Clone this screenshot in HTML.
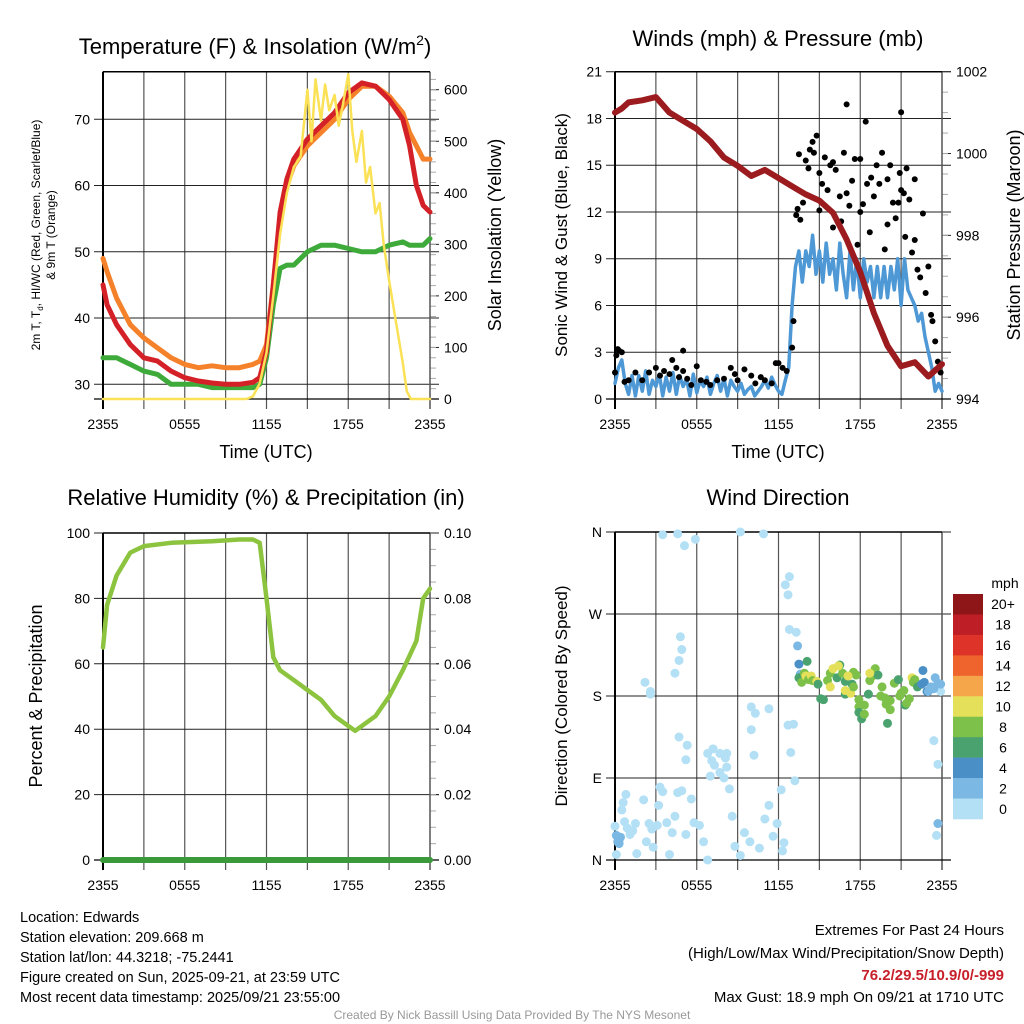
<!DOCTYPE html>
<html><head><meta charset="utf-8"><style>
html,body{margin:0;padding:0;background:#fff;}
svg{display:block;font-family:"Liberation Sans",sans-serif;}
</style></head><body>
<svg id="chart" width="1024" height="1024" viewBox="0 0 1024 1024">
<g id="layer"></g>
<text x="255" y="54" font-size="22" text-anchor="middle">Temperature (F) &amp; Insolation (W/m<tspan dy="-9" font-size="14">2</tspan><tspan dy="9">)</tspan></text>
<text x="778" y="46" font-size="22" text-anchor="middle">Winds (mph) &amp; Pressure (mb)</text>
<text x="266" y="505" font-size="22" text-anchor="middle">Relative Humidity (%) &amp; Precipitation (in)</text>
<text x="778" y="505" font-size="22" text-anchor="middle">Wind Direction</text>
<text x="266" y="458" font-size="18" text-anchor="middle">Time (UTC)</text>
<text x="778" y="458" font-size="18" text-anchor="middle">Time (UTC)</text>
<text transform="translate(40,235) rotate(-90)" font-size="12" text-anchor="middle">2m T, T<tspan font-size="8" dy="3">d</tspan><tspan dy="-3">, HI/WC (Red, Green, Scarlet/Blue)</tspan></text>
<text transform="translate(55,235) rotate(-90)" font-size="12" text-anchor="middle">&amp; 9m T (Orange)</text>
<text transform="translate(501,235) rotate(-90)" font-size="18" text-anchor="middle">Solar Insolation (Yellow)</text>
<text transform="translate(567,235) rotate(-90)" font-size="17" text-anchor="middle">Sonic Wind &amp; Gust (Blue, Black)</text>
<text transform="translate(1020,235) rotate(-90)" font-size="18" text-anchor="middle">Station Pressure (Maroon)</text>
<text transform="translate(42,696) rotate(-90)" font-size="18" text-anchor="middle">Percent &amp; Precipitation</text>
<text transform="translate(567,696) rotate(-90)" font-size="17" text-anchor="middle">Direction (Colored By Speed)</text>
<g font-size="14.5">
<text x="20" y="922">Location: Edwards</text>
<text x="20" y="942">Station elevation: 209.668 m</text>
<text x="20" y="962">Station lat/lon: 44.3218; -75.2441</text>
<text x="20" y="982">Figure created on Sun, 2025-09-21, at 23:59 UTC</text>
<text x="20" y="1002">Most recent data timestamp: 2025/09/21 23:55:00</text>
</g>
<g font-size="15" text-anchor="end">
<text x="1004" y="935">Extremes For Past 24 Hours</text>
<text x="1004" y="958">(High/Low/Max Wind/Precipitation/Snow Depth)</text>
<text x="1004" y="980" fill="#c8202a" font-weight="bold">76.2/29.5/10.9/0/-999</text>
<text x="1004" y="1002">Max Gust: 18.9 mph On 09/21 at 1710 UTC</text>
</g>
<text x="512" y="1019" font-size="12" fill="#999" text-anchor="middle">Created By Nick Bassill Using Data Provided By The NYS Mesonet</text>
</svg>
<script>
// ---- data (hours since 2355 UTC) ----
const tempHours=[0,0.3,1,2,3,4,5,6,7,8,9,10,11,11.5,12,12.5,13,13.5,14,15,16,17,18,19,20,21,22,22.5,23,23.5,24];
const tempF=[45,42,39,36,34,33.5,32,31,30.5,30.2,30,30,30.3,31,35,45,56,61,64,67,69,71,74,75.5,75,73,70,66,60,57,56];
const temp9mF=[49,47,43,39,37,35.5,34,33,32.5,32.8,32.5,32.5,33,33.5,36,45,55,60,63,66,68,70,73,75,75,73.5,71,68,66,64,64];
const dewF=[34,34,34,33,32,31.5,30,30,30,29.5,29.5,29.5,29.5,30,34,42,47.5,48,48,50,51,51,50.5,50,50,51,51.5,51,51,51,52];
const solarHours=[0,10.5,11,11.5,12,12.5,13,13.5,14,14.5,15,15.3,15.6,16,16.3,16.6,17,17.3,17.6,18,18.3,18.6,19,19.3,19.6,20,20.3,20.6,21,21.5,22,22.3,22.6,24];
const solarW=[0,0,5,30,90,200,320,400,450,470,600,500,620,540,610,560,590,530,570,630,520,460,520,420,450,360,380,300,230,150,70,15,0,0];
const windHours=Array.from({length:97},(_,i)=>i*0.25);
const windMph=[1,2,2.5,1,0.3,1.5,0.2,1.5,0.5,1.8,0.3,1.2,0.8,1.6,0.2,1.4,0.5,1.7,0.3,1.5,0.8,1.3,0.2,1.6,0.4,1.2,0.8,1.4,0.3,1.0,1.5,0.5,1.3,0.2,1.2,0.8,0.5,1.0,0.3,0.6,0.8,0.2,0.5,0.8,1.2,0.7,1.4,0.9,0.5,0.3,1.2,
2,6,8.5,9.5,7.5,9.5,8.5,10.5,8,9.5,7.5,10,8,9,7,10,8,6.5,9.5,7,9,6.5,9,7.5,8.5,6.5,8.5,6.5,8.5,6.5,8.5,7,9,6,9,7,6.5,6,5,5.5,4,3,2,0.5,1,0.5];
const gustHours=[0,0.1,0.2,0.3,0.5,0.7,1,1.5,2,2.5,3,3.3,3.6,4,4.2,4.5,4.7,5,5,5.3,5.6,6,6.3,6.7,7,7.5,8,8.5,8.8,9,9.5,10,10.3,10.7,11,11.5,11.8,12,12.3,12.6,13,13.1,13.3,13.4,13.5,13.6,13.8,14,14.2,14.3,14.5,14.6,14.8,15,15,15.2,15.4,15.6,15.8,16,16,16.2,16.5,16.6,16.8,17,17,17.2,17.4,17.6,17.8,18,18,18.2,18.4,18.5,18.7,18.8,19,19.2,19.4,19.6,19.8,20,20,20.2,20.4,20.6,20.8,20.9,21,21,21.2,21.3,21.4,21.6,21.8,22,22,22.2,22.4,22.6,22.8,23,23.2,23.3,23.5,23.7,23.9];
const gustMph=[1.7,2.8,3.2,3.1,3.0,1.1,1.2,1.7,1.2,1.7,2.0,1.5,1.8,1.6,2.5,2.0,1.4,1.8,3.1,1.3,0.9,2.1,1.2,1.1,0.9,1.2,1.3,2.0,1.6,1.2,1.9,1.5,1.0,1.4,1.2,1.0,2.3,2.3,2.0,1.8,3.3,5.0,11.8,12.2,15.7,11.5,12.6,15.3,14.8,16.0,16.5,15.8,16.9,14.5,12.1,13.8,15.5,13.4,15.0,15.2,11.0,14.7,13.0,11.4,15.8,18.9,13.2,12.4,14.0,15.4,9.9,12.0,15.4,12.5,17.8,13.8,10.7,14.2,13.0,15.0,13.8,15.8,9.6,14.1,11.2,15.0,12.6,11.6,12.6,14.5,13.4,18.4,13.2,10.4,14.8,12.8,9.4,14.1,10.2,8.3,7.8,11.9,6.8,8.5,5.4,5.0,3.7,2.4,1.7];
const presHours=[0,0.5,1,2,3,4,5,6,7,8,9,10,11,12,13,14,15,16,17,18,19,20,21,22,23,23.5,24];
const presMb=[1001.0,1001.1,1001.25,1001.3,1001.38,1001.0,1000.8,1000.6,1000.3,999.9,999.7,999.45,999.6,999.4,999.2,999.0,998.85,998.55,997.9,997.1,996.1,995.3,994.8,994.9,994.55,994.7,994.85];
const rhHours=[0,0.3,1,2,3,5,8,10,11,11.5,12,12.5,13,14,15,16,17,18,18.5,19,20,21,22,23,23.5,24];
const rhPct=[65,78,87,94,96,97,97.5,98,98,97,80,62,58,55,52,49,44,41,39.5,41,44,50,58,67,80,83];
const dirHours=[0,0.1,0.3,0.4,0.3,0.5,0.6,0.8,0.7,0.9,1.1,1.3,1.5,1.6,2.1,2.5,2.7,2.3,2.8,3.1,3.3,3.2,3.5,3.8,4,4.2,4.6,4.4,4.9,5.2,5.6,5.8,6.2,6.5,6.8,7.0,7.1,7.3,7.7,8.0,8.2,8.4,8.6,8.8,9.2,9.5,9.9,10.2,10.0,10.3,10.6,11,11.3,11.6,11.9,12.3,12.2,12.4,3.5,4.6,5.1,5.9,9.2,10.9,12.8,12.5,12.7,12.8,13.3,13.4,13.5,13.6,4.9,4.8,4.4,4.7,2.2,2.6,2.6,10.0,11.3,12.7,13.1,12.9,13.2,5.2,4.7,5.3,6.8,7.2,7.7,8.2,8.1,23.4,23.7,23.7,23.6,23.9,0.1,0.2,
13.5,13.7,13.9,14.0,14.2,14.4,14.5,14.8,14.9,15.1,15.3,15.6,15.8,15.8,16.0,16.3,16.5,16.7,16.9,16.9,17.3,17.4,17.5,17.7,17.5,17.9,17.9,18.1,17.9,18.3,18.3,18.6,18.7,18.9,19.1,19.3,19.5,19.6,19.8,19.9,20.0,20.2,20.2,20.5,20.8,20.9,21.0,21.2,21.3,21.4,21.6,21.8,21.9,22.0,22.2,22.5,22.6,22.7,22.9,23.0,23.2,23.4,23.5,23.7,23.9,14.1,16.4,17.1,18.7,16.9];
const dirDeg=[37,6,22,25,18,55,63,72,42,35,28,32,40,7,66,40,34,20,14,38,80,60,75,41,6,30,74,48,76,28,67,41,38,20,0,92,109,104,96,90,102,78,48,15,5,30,20,115,143,161,13,45,60,26,40,10,77,19,357,358,345,352,360,358,311,302,291,253,250,235,215,204,231,245,205,219,195,185,182,168,166,148,149,118,87,110,135,126,117,122,117,117,112,131,105,40,27,185,27,20,
200,195,205,202,198,202,197,196,193,177,176,197,205,190,210,200,214,205,196,182,183,193,206,203,190,168,162,155,176,170,160,182,197,202,210,203,180,190,178,171,150,165,175,194,198,180,183,186,170,172,177,200,195,198,190,193,208,195,185,185,190,188,200,194,193,218,213,202,205,186];
const dirSpd=[1,1,3,3,3,1,1,1,1,1,1,1,1,1,1,1,1,1,1,1,1,1,1,1,1,1,1,1,1,1,1,1,1,1,1,1,1,1,1,1,1,1,1,1,1,1,1,1,1,1,1,1,1,1,1,1,1,1,1,1,1,1,1,1,1,1,1,1,1,3,4,3,1,1,1,1,1,1,1,1,1,1,1,1,1,1,1,1,1,1,1,1,1,1,1,2,1,1,3,3,
7,8,8,10,9,10,9,10,6,7,6,8,8,10,10,6,6,8,6,6,10,6,8,8,8,8,6,6,8,8,8,6,8,8,8,6,8,8,8,8,6,8,8,8,6,8,8,8,6,8,8,10,8,8,6,4,4,4,4,3,3,2,2,2,3,6,10,10,10,10];
const tickLabels=["2355","0555","1155","1755","2355"];
const speedBinLabels=["20+","18","16","14","12","10","8","6","4","2","0"];
const speedBinColors=["#8e1518","#be1e26","#dd3328","#ef632c","#f5a64a","#e5e05a","#7dc14a","#4aa36e","#4a8fc6","#7bb8e3","#b3e0f5"];

const NS="http://www.w3.org/2000/svg";
const layer=document.getElementById('layer');
function mk(tag,attrs,parent){const e=document.createElementNS(NS,tag);for(const k in attrs)e.setAttribute(k,attrs[k]);(parent||layer).appendChild(e);return e;}
function scale(d0,d1,r0,r1){return v=>r0+(v-d0)*(r1-r0)/(d1-d0);}
function pathD(xs,ys,fx,fy){return xs.map((h,i)=>(i?'L':'M')+fx(h).toFixed(1)+','+fy(ys[i]).toFixed(1)).join('');}

function panel(name,L,R,T,B,leftTicks,fyL,rightTicks,fyR,minorR){
  const g=mk('g',{});
  
  
  const fx=scale(0,24,L,R);
  for(let h=3;h<24;h+=3){const x=fx(h);const l=mk('line',{x1:x,x2:x,y1:T,y2:B+10,stroke:'#555','stroke-width':1.2},g);}
  leftTicks.forEach(t=>{const y=fyL(t.v);const l=mk('line',{x1:L-9,x2:R+9,y1:y,y2:y,stroke:'#222','stroke-width':1},g);
    const tx=mk('text',{x:L-13,y:y+5,'font-size':14,'text-anchor':'end'},g);tx.textContent=t.s;});
  rightTicks.forEach(t=>{const y=fyR(t.v);mk('line',{x1:R,x2:R+9,y1:y,y2:y,stroke:'#222'},g);
    const tx=mk('text',{x:R+14,y:y+5,'font-size':14},g);tx.textContent=t.s;});
  if(minorR)minorR.forEach(v=>{const y=fyR(v);mk('line',{x1:R,x2:R+6,y1:y,y2:y,stroke:'#aaa'},g);});
  mk('line',{x1:L,x2:L,y1:T,y2:B+10,stroke:'#000','stroke-width':2},g);
  mk('line',{x1:R,x2:R,y1:T,y2:B+10,stroke:'#555','stroke-width':1.5},g);
  mk('line',{x1:L,x2:R,y1:T,y2:T,stroke:'#000','stroke-width':1.5},g);
  mk('line',{x1:L-9,x2:R+9,y1:B,y2:B,stroke:'#000','stroke-width':1.2},g);
  tickLabels.forEach((s,i)=>{const tx=mk('text',{x:fx(i*6),y:B+30,'font-size':14,'text-anchor':'middle'},g);tx.textContent=s;});
  return {fx,g};
}
function line(p,xs,ys,fy,color,w,name){const e=mk('path',{d:pathD(xs,ys,p.fx,fy),fill:'none',stroke:color,'stroke-width':w,'stroke-linejoin':'round','stroke-linecap':'round'},p.g);return e;}

// Panel 1
{const L=103,R=430,T=71.7,B=399;
 const fyL=scale(30,70,384.3,119.3), fyR=scale(0,600,399,89.7);
 const lt=[30,40,50,60,70].map(v=>({v,s:String(v)}));
 const rt=[0,100,200,300,400,500,600].map(v=>({v,s:String(v)}));
 const mn=[];for(let v=20;v<=620;v+=20)mn.push(v);
 const p=panel('temperature',L,R,T,B,lt,fyL,rt,fyR,mn);
 line(p,tempHours,dewF,fyL,'#3daa3a',5,'dewpoint-line');
 line(p,tempHours,temp9mF,fyL,'#f5822a',5,'temp-9m-line');
 line(p,tempHours,tempF,fyL,'#d42128',5,'temp-2m-line');
 line(p,solarHours,solarW,fyR,'#fbe155',2.5,'solar-line');
}
// Panel 2
{const L=615,R=942,T=71.7,B=399;
 const fyL=scale(0,21,399,71.7), fyR=scale(994,1002,399,71.7);
 const lt=[0,3,6,9,12,15,18,21].map(v=>({v,s:String(v)}));
 const rt=[994,996,998,1000,1002].map(v=>({v,s:String(v)}));
 const mn=[];for(let v=994.5;v<1002;v+=0.5)mn.push(v);
 const p=panel('winds',L,R,T,B,lt,fyL,rt,fyR,mn);
 line(p,windHours,windMph,fyL,'#4d98d5',3.5,'wind-speed-line');
 gustHours.forEach((h,i)=>{const c=mk('circle',{cx:p.fx(h),cy:fyL(gustMph[i]),r:3,fill:'#000'},p.g);});
 line(p,presHours,presMb,fyR,'#9b1b1e',6,'pressure-line');
}
// Panel 3
{const L=103,R=430,T=533,B=860;
 const fyL=scale(0,100,860,533), fyR=scale(0,0.1,860,533);
 const lt=[0,20,40,60,80,100].map(v=>({v,s:String(v)}));
 const rt=[0,0.02,0.04,0.06,0.08,0.1].map(v=>({v,s:v.toFixed(2)}));
 const mn=[];for(let v=0.005;v<0.1;v+=0.005)mn.push(v);
 const p=panel('humidity',L,R,T,B,lt,fyL,rt,fyR,mn);
 line(p,rhHours,rhPct,fyL,'#8cc43f',4.5,'rh-line');
 line(p,[0,24],[0,0],fyR,'#3a9a3a',6,'precip-line');
}
// Panel 4
{const L=615,R=942,T=532,B=860;
 const fyL=scale(0,360,860,532);
 const lt=[{v:0,s:'N'},{v:90,s:'E'},{v:180,s:'S'},{v:270,s:'W'},{v:360,s:'N'}];
 const p=panel('wind-direction',L,R,T,B,lt,fyL,[],fyL,null);
 const binColor=s=>speedBinColors[10-Math.min(10,Math.floor(s/2))];
 dirHours.forEach((h,i)=>{const c=mk('circle',{cx:p.fx(h),cy:fyL(dirDeg[i]),r:4.5,fill:binColor(dirSpd[i])},p.g);});
 const cb=mk('g',{});
 
 
 const bh=(819-594)/11;
 speedBinColors.forEach((c,i)=>{mk('rect',{x:953,y:594+i*bh,width:30,height:bh+0.3,fill:c},cb);
   const t=mk('text',{x:1003,y:594+i*bh+bh/2+5,'font-size':14,'text-anchor':'middle'},cb);t.textContent=speedBinLabels[i];});
 const u=mk('text',{x:1005,y:588,'font-size':14,'text-anchor':'middle'},cb);u.textContent='mph';
}
</script>
</body></html>
